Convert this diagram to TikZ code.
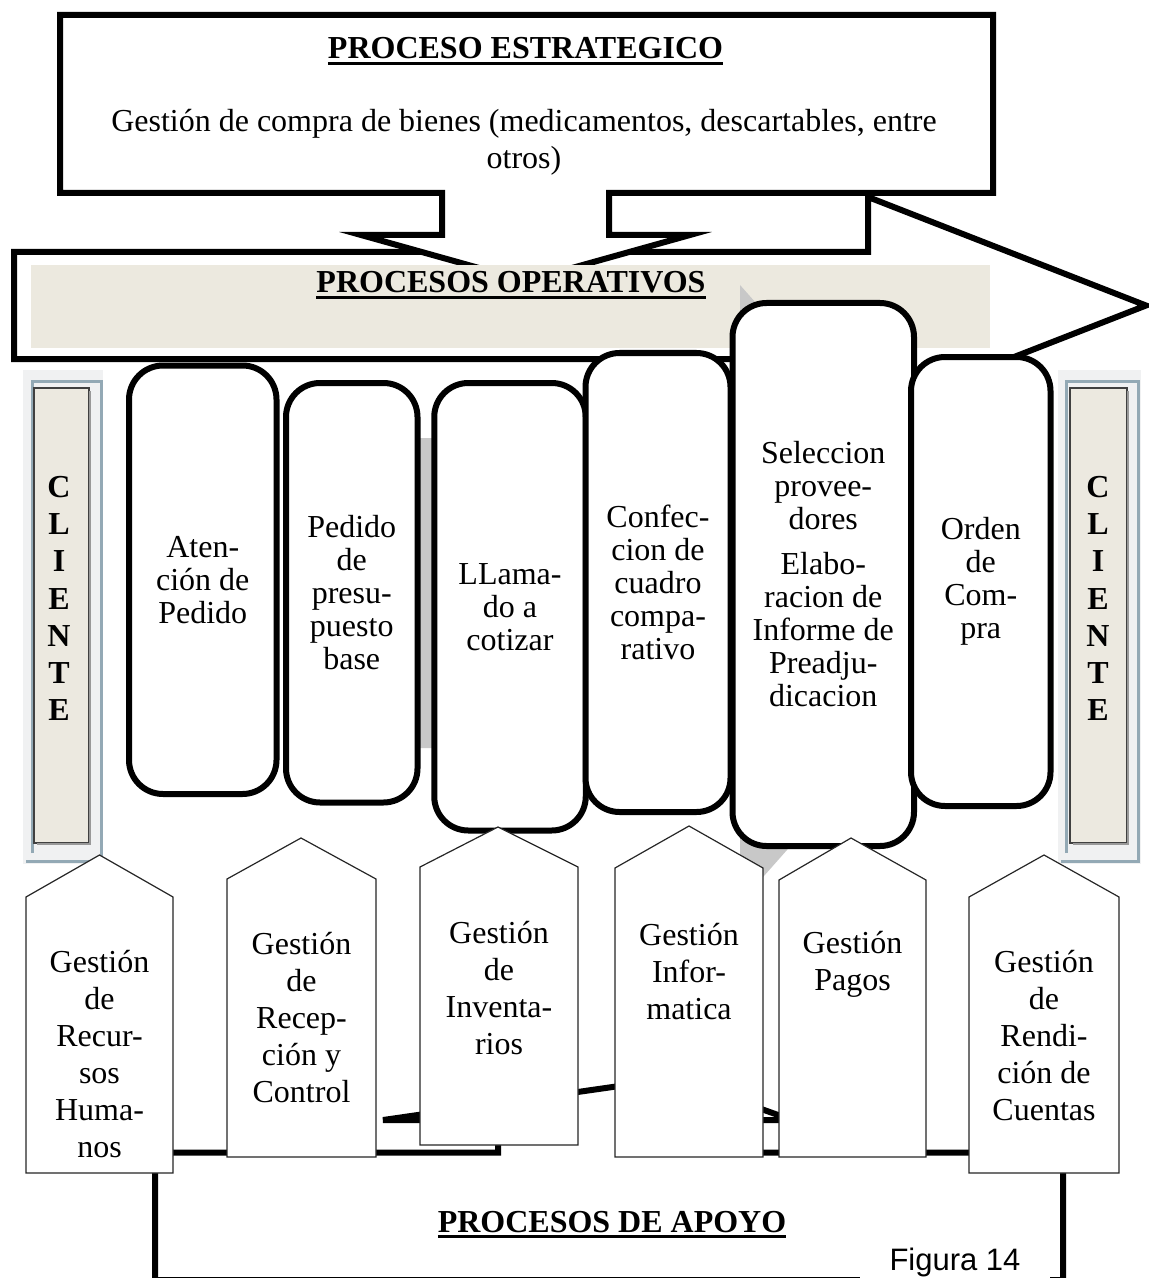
\documentclass[tikz,border=0pt]{standalone}
\usepackage{fontspec}
\setmainfont{Liberation Serif}
\newfontfamily\figfont{Liberation Sans}
\definecolor{bandbeige}{HTML}{ECE9DF}
\definecolor{shadowgray}{HTML}{C8C8C8}
\definecolor{clishade}{HTML}{93A9B5}
\definecolor{cliframe}{HTML}{F0F1F2}
\definecolor{clifill}{HTML}{ECE9E0}
\newcommand{\ulhead}[1]{\setbox0=\hbox{\bfseries #1}\rlap{\rule[-2.8pt]{\wd0}{1.2pt}}\box0}

\begin{document}
\begin{tikzpicture}[x=0.5pt,y=-0.5pt,
  thickline/.style={draw,line width=3pt,line join=miter,fill=white},
  procbox/.style={draw,line width=3pt,fill=white,rounded corners=17pt,align=center,inner sep=0pt,font=\fontsize{16}{16.5}\selectfont},
  apoyobox/.style={draw=black!85,line width=0.6pt,fill=white},
  apoyotext/.style={anchor=north,inner sep=0pt,align=center,font=\fontsize{16}{18.5}\selectfont},
  clitext/.style={align=center,inner sep=0pt,font=\bfseries\fontsize{16}{18.6}\selectfont},
  headtext/.style={anchor=base,inner sep=0pt,font=\fontsize{16}{18.5}\selectfont}]
  \useasboundingbox (0,0) rectangle (1149,1278);
  \draw[thickline] (14,252) -- (868,252) -- (868,197) -- (1146,305.5) -- (868,414) -- (868,359) -- (14,359) -- cycle;
  \draw[thickline] (60,15) -- (993,15) -- (993,193) -- (609,193) -- (609,235) -- (690,235) -- (525.5,281) -- (361,235) -- (442,235) -- (442,193) -- (60,193) -- cycle;
  \node[headtext] (estrat) at (525.5,59) {\ulhead{PROCESO ESTRATEGICO}};
  \node[align=center,inner sep=0pt,font=\fontsize{16}{18.5}\selectfont] (compra) at (524,142) {Gestión de compra de bienes (medicamentos, descartables, entre\\otros)};
  \fill[bandbeige] (31,265) rectangle (990,348);
  \node[headtext] (oper) at (511,293) {\ulhead{PROCESOS OPERATIVOS}};
  \fill[shadowgray] (300,438) -- (740,438) -- (740,285) -- (1014,594) -- (740,903) -- (740,748) -- (300,748) -- cycle;
  \node[procbox,minimum width=73.75pt,minimum height=214.25pt] (aten) at (202.75,579.75) {Aten-\\ción de\\Pedido};
  \node[procbox,minimum width=65.75pt,minimum height=209.75pt] (presu) at (351.75,592.75) {Pedido\\de\\presu-\\puesto\\base};
  \node[procbox,minimum width=75.75pt,minimum height=223.75pt] (llama) at (510,606.75) {LLama-\\do a\\cotizar};
  \node[procbox,minimum width=72.5pt,minimum height=229.5pt] (cuadro) at (658,582.5) {Confec-\\cion de\\cuadro\\compa-\\rativo};
  \node[procbox,minimum width=90.75pt,minimum height=271.5pt] (selec) at (823.25,574.5) {Seleccion\\provee-\\dores\\[6pt]Elabo-\\racion de\\Informe de\\Preadju-\\dicacion};
  \node[procbox,minimum width=69.75pt,minimum height=224.5pt] (orden) at (980.75,581.5) {Orden\\de\\Com-\\pra};
  \fill[cliframe] (23,370) rectangle (103,864);
  \draw[clishade,line width=1.5pt] (32,853) |- (101,381) |- (26,861);
  \draw[black!75,line width=0.6pt,fill=clifill] (34,388) rectangle (89,843);
  \draw[black!40,line width=1pt] (90,391) |- (37,844);
  \node[clitext] (cliL) at (59,598.5) {C\\L\\I\\E\\N\\T\\E};
  \fill[cliframe] (1058,370) rectangle (1141,864);
  \draw[clishade,line width=1.5pt] (1066,853) |- (1138,381) |- (1061,861);
  \draw[black!75,line width=0.6pt,fill=clifill] (1070,388) rectangle (1127,843);
  \draw[black!40,line width=1pt] (1128,391) |- (1073,844);
  \node[clitext] (cliR) at (1098,598.5) {C\\L\\I\\E\\N\\T\\E};
  \draw[thickline] (155,1280) -- (155,1152.5) -- (498,1152.5) -- (498,1120) -- (383,1120) -- (675,1078) -- (792,1120) -- (740,1120) -- (740,1152.5) -- (1063,1152.5) -- (1063,1280) -- cycle;
  \node[headtext] (apoyo) at (612,1232) {\ulhead{PROCESOS DE APOYO}};
  \draw[apoyobox] (26,1173) -- (26,897) -- (99.5,855) -- (173,897) -- (173,1173) -- cycle;
  \node[apoyotext] (rrhh) at (99.5,950) {Gestión\\de\\Recur-\\sos\\Huma-\\nos};
  \draw[apoyobox] (227,1157) -- (227,879) -- (301,838) -- (376,879) -- (376,1157) -- cycle;
  \node[apoyotext] (recep) at (301.5,932) {Gestión\\de\\Recep-\\ción y\\Control};
  \draw[apoyobox] (420,1145) -- (420,867) -- (498,827) -- (578,867) -- (578,1145) -- cycle;
  \node[apoyotext] (inven) at (499,921) {Gestión\\de\\Inventa-\\rios};
  \draw[apoyobox] (615,1157) -- (615,868) -- (689,826) -- (763,868) -- (763,1157) -- cycle;
  \node[apoyotext] (infor) at (689,923) {Gestión\\Infor-\\matica};
  \draw[apoyobox] (779,1157) -- (779,880) -- (851,838) -- (926,880) -- (926,1157) -- cycle;
  \node[apoyotext] (pagos) at (852.5,931) {Gestión\\Pagos};
  \draw[apoyobox] (969,1173) -- (969,897) -- (1044,855) -- (1119,897) -- (1119,1173) -- cycle;
  \node[apoyotext] (rendi) at (1044,950) {Gestión\\de\\Rendi-\\ción de\\Cuentas};
  \node[anchor=base,fill=white,inner xsep=15pt,inner ysep=3pt,font=\figfont\fontsize{15.5}{18}\selectfont] (fig) at (955,1270) {Figura 14};
\end{tikzpicture}
\end{document}
